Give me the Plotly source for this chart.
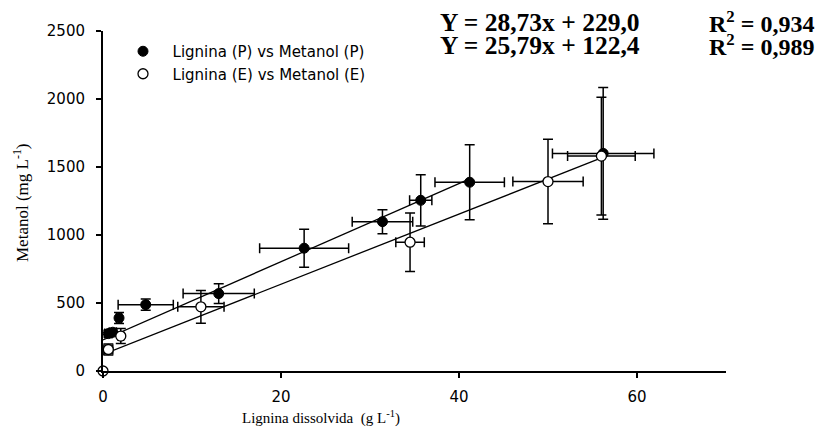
import plotly.graph_objects as go

# Series P (filled): Lignina (P) vs Metanol (P)
p_x = [0.6, 1.1, 1.8, 4.8, 13.0, 22.6, 31.4, 35.7, 41.2, 56.2]
p_y = [275, 285, 390, 488, 569, 903, 1098, 1255, 1388, 1600]
p_xerr = [0.4, 0.4, 0.3, 3.1, 4.0, 5.0, 3.4, 1.25, 3.9, 5.7]
p_yerr = [25, 25, 40, 42, 72, 140, 88, 188, 275, 485]

# Series E (open): Lignina (E) vs Metanol (E)
e_x = [0.0, 0.6, 2.0, 11.0, 34.5, 50.0, 56.0]
e_y = [0, 158, 257, 472, 947, 1393, 1580]
e_xerr = [0, 0.5, 0.3, 2.6, 1.6, 3.95, 3.8]
e_yerr = [0, 40, 55, 120, 215, 311, 433]

# Regression lines (as printed on chart)
p_fit = (28.73, 229.0)
e_fit = (25.79, 122.4)
p_fit_x = [0.0, 41.2]
e_fit_x = [0.0, 56.0]

legend_names = ["Lignina (P) vs Metanol (P)", "Lignina (E) vs Metanol (E)"]
eq_lines = ["Y = 28,73x + 229,0", "Y = 25,79x + 122,4"]
r2_lines = ["R<sup>2</sup> = 0,934", "R<sup>2</sup> = 0,989"]
x_ticks = [0, 20, 40, 60]
y_ticks = [0, 500, 1000, 1500, 2000, 2500]

fig = go.Figure()

fig.add_trace(go.Scatter(
    x=p_fit_x, y=[p_fit[0] * v + p_fit[1] for v in p_fit_x],
    mode="lines", line=dict(color="black", width=1.3),
    showlegend=False, hoverinfo="skip"))
fig.add_trace(go.Scatter(
    x=e_fit_x, y=[e_fit[0] * v + e_fit[1] for v in e_fit_x],
    mode="lines", line=dict(color="black", width=1.3),
    showlegend=False, hoverinfo="skip"))

err_style = dict(color="black", thickness=1.5, width=5)

fig.add_trace(go.Scatter(
    x=p_x, y=p_y, mode="markers", name="&nbsp;&nbsp;" + legend_names[0],
    marker=dict(symbol="circle", size=10, color="black",
                line=dict(color="black", width=1)),
    error_x=dict(type="data", array=p_xerr, visible=True, **err_style),
    error_y=dict(type="data", array=p_yerr, visible=True, **err_style),
    cliponaxis=False))

# points of E with error bars / without error bars
e_idx_err = [i for i in range(len(e_x)) if e_xerr[i] > 0 or e_yerr[i] > 0]
e_idx_plain = [i for i in range(len(e_x)) if not (e_xerr[i] > 0 or e_yerr[i] > 0)]
open_marker = dict(symbol="circle", size=10, color="white",
                   line=dict(color="black", width=1.3))
fig.add_trace(go.Scatter(
    x=[e_x[i] for i in e_idx_plain], y=[e_y[i] for i in e_idx_plain],
    mode="markers", marker=open_marker, showlegend=False,
    legendgroup="E", cliponaxis=False))
fig.add_trace(go.Scatter(
    x=[e_x[i] for i in e_idx_err], y=[e_y[i] for i in e_idx_err],
    mode="markers", name="&nbsp;&nbsp;" + legend_names[1], legendgroup="E",
    marker=open_marker,
    error_x=dict(type="data", array=[e_xerr[i] for i in e_idx_err], visible=True, **err_style),
    error_y=dict(type="data", array=[e_yerr[i] for i in e_idx_err], visible=True, **err_style),
    cliponaxis=False))

# page has an 8px body margin; figure is sized to fit the window
OFF = 8
W, H = 825 - OFF, 428 - OFF
L = 103 - OFF
T = 31 - OFF
pw = 623
ph = 340
R = W - L - pw
B = H - T - ph

def px(xp):  # page pixel -> paper x
    return (xp - OFF - L) / pw

def py(yp):  # page pixel -> paper y
    return (T + ph - (yp - OFF)) / ph

annots = []
eq_font = dict(family="Liberation Serif", size=25.5, color="black")
r2_font = dict(family="Liberation Serif", size=24, color="black")
for i, yb in enumerate([39, 62]):
    annots.append(dict(text="<b>" + eq_lines[i] + "</b>", x=px(438), y=py(yb),
                       xref="paper", yref="paper", xanchor="left", yanchor="bottom",
                       showarrow=False, font=eq_font))
    annots.append(dict(text="<b>" + r2_lines[i] + "</b>", x=px(707), y=py(yb),
                       xref="paper", yref="paper", xanchor="left", yanchor="bottom",
                       showarrow=False, font=r2_font))

annots.append(dict(text="Lignina dissolvida  (g L<sup>-1</sup>)", x=px(321), y=py(417),
                   xref="paper", yref="paper", xanchor="center", yanchor="middle",
                   showarrow=False,
                   font=dict(family="Liberation Serif", size=15, color="black")))
annots.append(dict(text="Metanol (mg L<sup>-1</sup>)", x=px(21), y=py(203),
                   xref="paper", yref="paper", xanchor="center", yanchor="middle",
                   textangle=-90, showarrow=False,
                   font=dict(family="Liberation Serif", size=17, color="black")))

axis_common = dict(showgrid=False, zeroline=False, showline=True, linecolor="black",
                   linewidth=2, ticks="outside", ticklen=5, tickwidth=1.5,
                   tickcolor="black",
                   tickfont=dict(family="DejaVu Sans", size=15, color="black"))

fig.update_layout(
    width=W, height=H,
    margin=dict(l=L, r=R, t=T, b=B),
    paper_bgcolor="white", plot_bgcolor="white",
    xaxis=dict(range=[0, 70], tickvals=x_ticks, ticklabelstandoff=6, **axis_common),
    yaxis=dict(range=[0, 2500], tickvals=y_ticks, ticklabelstandoff=8, **axis_common),
    legend=dict(x=px(123), y=py(35), xanchor="left", yanchor="top",
                bgcolor="rgba(0,0,0,0)",
                font=dict(family="DejaVu Sans", size=15, color="black"),
                tracegroupgap=0, itemwidth=30),
    annotations=annots,
    showlegend=True,
)

fig.write_html("out.html")
